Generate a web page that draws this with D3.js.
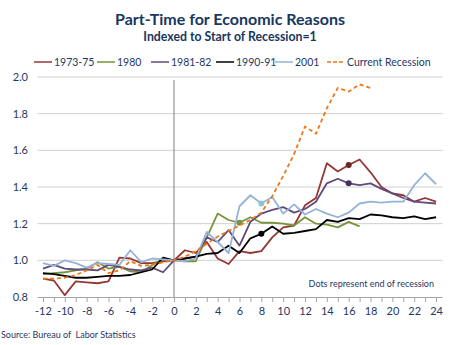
<!DOCTYPE html>
<html>
<head>
<meta charset="utf-8">
<script src="https://cdn.jsdelivr.net/npm/d3@7"></script>
<style>
  body { margin: 0; background: #fff; }
  svg text { font-family: "Lato", "Liberation Sans", sans-serif; fill: #1f3864; }
</style>
</head>
<body>
<div id="chart"></div>
<script>
// months relative to start of recession
const monthsFull = d3.range(-12, 25);
const months1980 = d3.range(-12, 18);
const monthsCurrent = d3.range(-12, 19);

const v197375 = [0.90, 0.89, 0.81, 0.885, 0.88, 0.875, 0.885, 1.015, 1.01, 0.985, 0.985, 0.995, 1.0,
  1.055, 1.04, 1.10, 1.01, 0.98, 1.05, 1.04, 1.05, 1.125, 1.18, 1.19, 1.30, 1.34, 1.53, 1.485, 1.52,
  1.55, 1.48, 1.40, 1.365, 1.355, 1.32, 1.34, 1.32];
const v1980 = [0.925, 0.93, 0.935, 0.945, 0.955, 0.99, 0.955, 0.965, 0.94, 0.935, 0.975, 1.005, 1.0,
  0.995, 0.995, 1.125, 1.255, 1.22, 1.205, 1.235, 1.205, 1.205, 1.20, 1.19, 1.235, 1.20, 1.195, 1.18,
  1.21, 1.185];
const v198182 = [0.955, 0.975, 0.955, 0.95, 0.95, 0.945, 0.975, 0.965, 0.95, 0.945, 0.96, 0.935, 1.0,
  1.01, 1.02, 1.125, 1.10, 1.165, 1.08, 1.21, 1.255, 1.275, 1.29, 1.26, 1.28, 1.32, 1.42, 1.445, 1.42,
  1.41, 1.42, 1.39, 1.365, 1.34, 1.32, 1.315, 1.31];
const v199091 = [0.93, 0.925, 0.915, 0.905, 0.905, 0.91, 0.915, 0.915, 0.92, 0.935, 0.95, 1.015, 1.0,
  1.01, 1.02, 1.035, 1.04, 1.08, 1.04, 1.12, 1.145, 1.185, 1.145, 1.15, 1.16, 1.17, 1.22, 1.21, 1.23,
  1.225, 1.25, 1.245, 1.235, 1.23, 1.24, 1.225, 1.235];
const v2001 = [0.985, 0.97, 1.0, 0.985, 0.96, 0.985, 0.98, 0.975, 1.055, 0.99, 1.01, 1.005, 1.0,
  0.995, 1.01, 1.155, 1.10, 1.04, 1.295, 1.355, 1.31, 1.345, 1.255, 1.305, 1.25, 1.28, 1.255, 1.235,
  1.26, 1.31, 1.32, 1.315, 1.32, 1.32, 1.41, 1.475, 1.415];
const vCurrent = [0.90, 0.90, 0.905, 0.92, 0.945, 0.975, 0.93, 0.945, 0.995, 0.97, 0.975, 0.99, 1.0,
  1.02, 1.05, 1.09, 1.13, 1.16, 1.19, 1.22, 1.26, 1.35, 1.46, 1.58, 1.73, 1.69, 1.83, 1.94, 1.92,
  1.96, 1.94];

const yTicks = [0.8, 1.0, 1.2, 1.4, 1.6, 1.8, 2.0];
const xTickLabels = d3.range(-12, 25, 2);

const series = [
  {name: "1973-75", months: monthsFull, values: v197375, end: 16, color: "#953735", dot: "#6e2424"},
  {name: "1980", months: months1980, values: v1980, end: 6, color: "#77933c", dot: "#77933c"},
  {name: "1981-82", months: monthsFull, values: v198182, end: 16, color: "#604a7b", dot: "#43335a"},
  {name: "1990-91", months: monthsFull, values: v199091, end: 8, color: "#000000", dot: "#000000"},
  {name: "2001", months: monthsFull, values: v2001, end: 8, color: "#95b3d7", dot: "#8ec3d2"},
  {name: "Current Recession", months: monthsCurrent, values: vCurrent, end: null, color: "#f0761a", dash: "4,3"}
];

const W = 460, H = 345;
const svg = d3.select("#chart").append("svg")
  .attr("width", W).attr("height", H);

const x = d3.scaleLinear().domain([-12.5, 24.6]).range([37.5, 442.6]);
const y = d3.scaleLinear().domain([0.8, 2.0]).range([297, 77]);

// titles
svg.append("text").attr("x", 230).attr("y", 25).attr("text-anchor", "middle")
  .style("font-size", "16px").style("font-weight", "bold").style("fill", "#17375e")
  .text("Part-Time for Economic Reasons");
svg.append("text").attr("x", 230).attr("y", 41).attr("text-anchor", "middle")
  .style("font-size", "12.3px").style("font-weight", "bold").style("fill", "#17375e")
  .text("Indexed to Start of Recession=1");

// legend
const legendX = [34, 97, 151, 216, 275, 327];
const legend = svg.append("g");
series.forEach((s, i) => {
  const g = legend.append("g").attr("transform", `translate(${legendX[i]},62)`);
  g.append("line").attr("x1", 0).attr("x2", 18).attr("y1", 0).attr("y2", 0)
    .attr("stroke", s.color).attr("stroke-width", 1.5)
    .attr("stroke-dasharray", s.dash ? "4,2" : null);
  g.append("text").attr("x", 20).attr("y", 4).style("font-size", "10.5px").text(s.name);
});

// grid
svg.append("g").selectAll("line").data(yTicks.slice(1)).join("line")
  .attr("x1", 37.5).attr("x2", 442.6)
  .attr("y1", d => y(d)).attr("y2", d => y(d))
  .attr("stroke", "#d0d0d0").attr("stroke-width", 1);

// y labels
svg.append("g").selectAll("text").data(yTicks).join("text")
  .attr("x", 28).attr("y", d => y(d) + 4).attr("text-anchor", "end")
  .style("font-size", "11px").text(d => d.toFixed(1));

// x axis
const xAxis = d3.axisBottom(x).tickValues(d3.range(-12, 25)).tickSize(5)
  .tickFormat(d => xTickLabels.includes(d) ? d : "");
const gx = svg.append("g").attr("transform", `translate(0,${y(0.8)})`).call(xAxis);
gx.select(".domain").attr("stroke", "#a6a6a6").attr("d", `M37.5,0.5H442.6`);
gx.selectAll(".tick line").attr("stroke", "#a6a6a6");
gx.selectAll(".tick text").style("font-size", "11px").attr("dy", "0.9em")
  .style("fill", "#1f3864").style("font-family", "Lato, 'Liberation Sans', sans-serif");

// recession start line
svg.append("line").attr("x1", x(0)).attr("x2", x(0)).attr("y1", 80).attr("y2", y(0.8))
  .attr("stroke", "#7f7f7f").attr("stroke-width", 1);

// lines
const line = d3.line().x(d => x(d[0])).y(d => y(d[1]));
series.forEach(s => {
  const pts = s.months.map((m, i) => [m, s.values[i]]);
  svg.append("path").datum(pts)
    .attr("fill", "none").attr("stroke", s.color).attr("stroke-width", 1.8)
    .attr("stroke-linejoin", "round")
    .attr("stroke-dasharray", s.dash || null)
    .attr("d", line);
  if (s.end !== null) {
    const i = s.months.indexOf(s.end);
    svg.append("circle").attr("cx", x(s.end)).attr("cy", y(s.values[i])).attr("r", 3)
      .attr("fill", s.dot);
  }
});

svg.append("text").attr("x", 434).attr("y", 287).attr("text-anchor", "end")
  .style("font-size", "9px").text("Dots represent end of recession");

svg.append("text").attr("x", 1).attr("y", 338).style("font-size", "9px")
  .style("white-space", "pre")
  .text("Source: Bureau of  Labor Statistics");
</script>
</body>
</html>
